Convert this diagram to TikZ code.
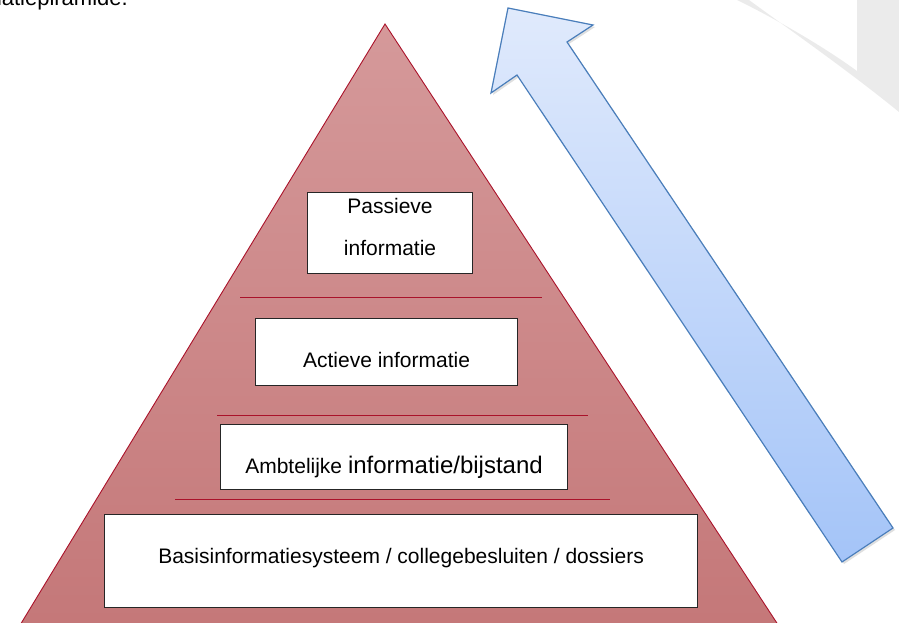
\documentclass[tikz,border=0pt]{standalone}
\usepackage{fontspec}
\setmainfont{Liberation Sans}
\usetikzlibrary{shadows}
\definecolor{piramiderand}{RGB}{170,18,42}
\definecolor{piramideboven}{RGB}{213,153,154}
\definecolor{piramideonder}{RGB}{196,119,120}
\definecolor{pijlrand}{RGB}{74,126,187}
\definecolor{pijlboven}{RGB}{224,234,252}
\definecolor{pijlonder}{RGB}{164,196,248}
\definecolor{achtergrond}{RGB}{235,235,235}

\begin{document}
    \begin{tikzpicture}[x=1pt, y=-1pt]
        \tikzstyle{laag}=[draw=black!85, line width=1.1pt, fill=white, inner sep=0pt, anchor=north west, font=\fontsize{21}{25}\selectfont]
        \tikzstyle{scheiding}=[draw=piramiderand, line width=0.9pt]
        \useasboundingbox (0,0) rectangle (899,622);
        \clip (0,0) rectangle (899,622);
        % Corner shape
        \fill[achtergrond] (737,0) .. controls (770,16) and (820,44) .. (857,71) -- (857,0) -- (899,0) -- (899,112)
            .. controls (850,72) and (790,30) .. (749,0) -- cycle;
        % End of the line above
        \node[anchor=base east, inner sep=0pt, font=\fontsize{22}{26}\selectfont] (kop) at (128,5) {informatiepiramide.};
        % Pyramid
        \draw[piramiderand, line width=0.9pt, top color=piramideboven, bottom color=piramideonder]
            (385,24) -- (11,640) -- (788,640) -- cycle;
        \draw[scheiding] (240,297) -- (542,297);
        \draw[scheiding] (217,415) -- (588,415);
        \draw[scheiding] (175,499) -- (610,499);
        % Level 1
        \node[laag, minimum width=165pt, text height=63pt, text depth=18pt, align=center,
            font=\fontsize{21}{42}\selectfont] (passief) at (307,192) {Passieve\\informatie};
        % Level 2
        \node[laag, minimum width=262pt, text height=49pt, text depth=18pt] (actief) at (255,318) {Actieve informatie};
        % Level 3
        \node[laag, minimum width=347pt, text height=48.7pt, text depth=16.3pt] (ambtelijk) at (220,424)
            {Ambtelijke {\fontsize{24}{28}\selectfont informatie/bijstand}};
        % Level 4
        \node[laag, minimum width=593pt, text height=48.7pt, text depth=44.3pt] (basis) at (104,514)
            {Basisinformatiesysteem / collegebesluiten / dossiers};
        % Arrow
        \draw[draw=pijlrand, line width=1.2pt, line join=miter, top color=pijlboven, bottom color=pijlonder,
            drop shadow={shadow xshift=2pt, shadow yshift=-2pt, opacity=0.25}]
            (508,8) -- (593,25) -- (567,42) -- (893,528) -- (842,562) -- (517,75) -- (491,93) -- cycle;
    \end{tikzpicture}
\end{document}
